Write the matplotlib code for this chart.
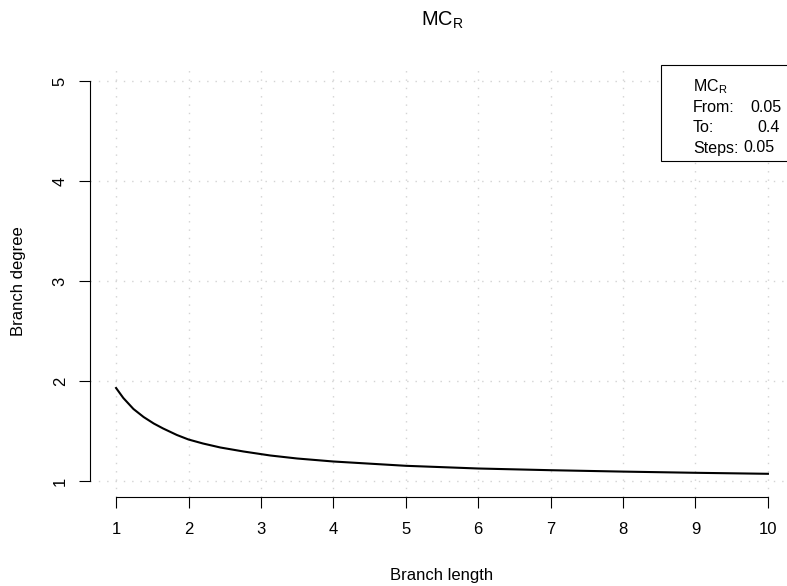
import numpy as np
import matplotlib.pyplot as plt
from matplotlib.patches import Rectangle

plt.rcParams['font.family'] = ['Liberation Sans', 'DejaVu Sans']
plt.rcParams['mathtext.fontset'] = 'custom'
plt.rcParams['mathtext.rm'] = 'Liberation Sans'

# values
branch_length = [1, 1.1, 1.24, 1.38, 1.52, 1.65, 1.84, 2, 2.2, 2.44, 2.76,
                 3.13, 3.5, 4, 5, 6, 7, 8, 9, 10]
branch_degree = [1.93, 1.83, 1.72, 1.64, 1.575, 1.525, 1.46, 1.415, 1.375, 1.335,
                 1.295, 1.255, 1.225, 1.195, 1.152, 1.125, 1.108, 1.094, 1.082, 1.072]

x_ticks = list(range(1, 11))
y_ticks = [1, 2, 3, 4, 5]

legend_labels = ['From:', 'To:', 'Steps:']
legend_values = ['0.05', '0.4', '0.05']

fig = plt.figure(figsize=(7.87, 5.86), dpi=100)
ax = fig.add_axes([90 / 787, 1 - 497 / 586, 704 / 787, 432 / 586])

ax.set_xlim(1 - 0.36, 10 + 0.36)
ax.set_ylim(1 - 0.16, 5 + 0.16)

# dotted grid
for xv in x_ticks:
    ax.axvline(xv, color='#d3d3d3', lw=1, linestyle=(0, (1, 5)), zorder=0)
for yv in y_ticks:
    ax.axhline(yv, color='#d3d3d3', lw=1, linestyle=(0, (1, 5)), zorder=0)

ax.plot(branch_length, branch_degree, color='black', lw=1.5, zorder=3)

for side in ['top', 'right']:
    ax.spines[side].set_visible(False)
ax.spines['left'].set_bounds(1, 5)
ax.spines['bottom'].set_bounds(1, 10)
for side in ['left', 'bottom']:
    ax.spines[side].set_linewidth(0.8)

ax.set_xticks(x_ticks)
ax.set_yticks(y_ticks)
ax.tick_params(axis='both', length=8, width=0.8, labelsize=12)
ax.tick_params(axis='x', pad=10)
ax.tick_params(axis='y', pad=8)
for lab in ax.get_yticklabels():
    lab.set_rotation(90)
    lab.set_va('center')

ax.set_xlabel('Branch length', fontsize=12, labelpad=22)
ax.set_ylabel('Branch degree', fontsize=12, labelpad=19)
ax.set_title(r'MC$_\mathregular{R}$', fontsize=14.4, pad=28)

# legend box in the top-right corner
ax.add_patch(Rectangle((0.811, 0.778), 0.189, 0.222, transform=ax.transAxes,
                       fill=True, facecolor='white', edgecolor='black',
                       lw=0.8, clip_on=False, zorder=4))
tx = (693 - 90) / 704
ax.text(tx, 1 - (87 - 65) / 432, r'MC$_\mathregular{R}$', transform=ax.transAxes,
        fontsize=11.5, va='center', ha='left', zorder=5)
value_x = [750, 757, 743]
row_y = [107, 127, 148]
for lab, val, vx, ry in zip(legend_labels, legend_values, value_x, row_y):
    yy = 1 - (ry - 65) / 432
    ax.text(tx, yy, lab, transform=ax.transAxes, fontsize=11.5, va='center', ha='left', zorder=5)
    ax.text((vx - 90) / 704, yy, val, transform=ax.transAxes, fontsize=11.5,
            va='center', ha='left', zorder=5)

fig.savefig('out.png', dpi=100)
